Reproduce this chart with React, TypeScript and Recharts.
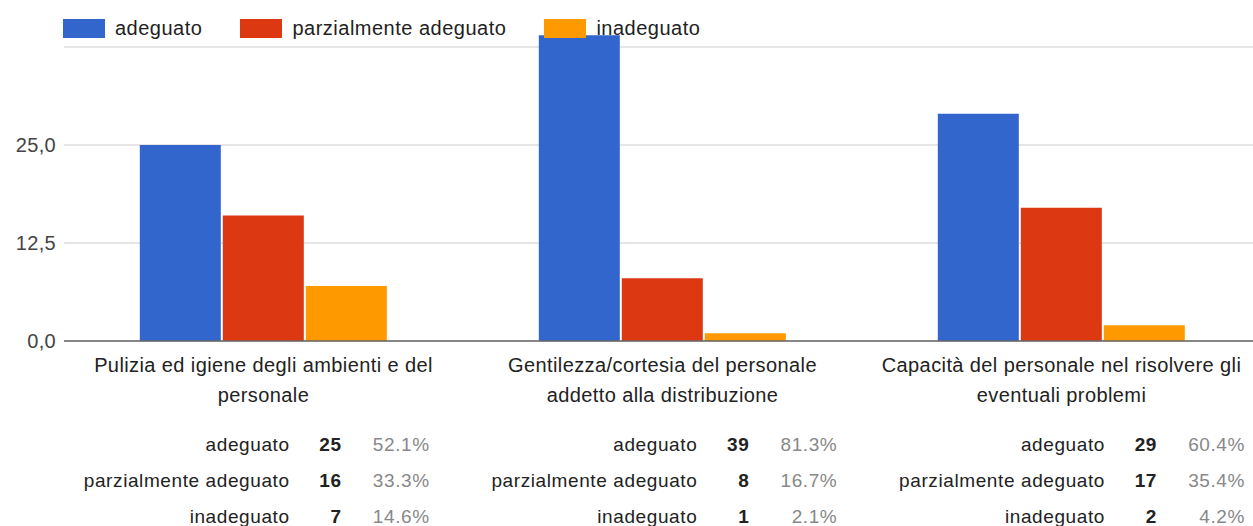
import React from 'react';
import { BarChart, Bar, XAxis, YAxis, CartesianGrid, Legend } from 'recharts';

const categories = [
  'Pulizia ed igiene degli ambienti e del personale',
  'Gentilezza/cortesia del personale addetto alla distribuzione',
  'Capacità del personale nel risolvere gli eventuali problemi',
];
const seriesNames = ['adeguato', 'parzialmente adeguato', 'inadeguato'];
const seriesColors = ['#3366cc', '#dc3912', '#ff9900'];
const adeguato = [25, 39, 29];
const parzialmenteAdeguato = [16, 8, 17];
const inadeguato = [7, 1, 2];
const percAdeguato = ['52.1%', '81.3%', '60.4%'];
const percParziale = ['33.3%', '16.7%', '35.4%'];
const percInadeguato = ['14.6%', '2.1%', '4.2%'];
const yTicks = [0, 12.5, 25, 37.5, 50];
const yTickLabels = ['0,0', '12,5', '25,0', '', ''];

const FONT = '"Liberation Sans", Arial, sans-serif';

const data = categories.map((name, i) => ({
  name,
  a: adeguato[i],
  p: parzialmenteAdeguato[i],
  n: inadeguato[i],
}));

const wrap = (s: string, max = 40) => {
  const lines: string[] = [];
  let cur = '';
  for (const w of s.split(' ')) {
    const t = cur ? cur + ' ' + w : w;
    if (t.length > max && cur) {
      lines.push(cur);
      cur = w;
    } else cur = t;
  }
  if (cur) lines.push(cur);
  return lines;
};

const XTick = ({ x, y, payload }: any) => (
  <text x={x} y={y} textAnchor="middle" fill="#222" fontSize={20} letterSpacing={0.4} fontFamily={FONT}>
    {wrap(payload.value).map((l, i) => (
      <tspan key={i} x={x} dy={i === 0 ? 23 : 30}>{l}</tspan>
    ))}
  </text>
);

const YTick = ({ x, y, payload }: any) => {
  const idx = yTicks.indexOf(payload.value);
  return (
    <text x={x} y={y} dy={7} textAnchor="end" fill="#444" fontSize={20} letterSpacing={0.3} fontFamily={FONT}>
      {yTickLabels[idx]}
    </text>
  );
};

const LegendContent = ({ payload }: any) => {
  const items = [...(payload || [])].sort(
    (a: any, b: any) => seriesNames.indexOf(a.value) - seriesNames.indexOf(b.value)
  );
  return (
    <div style={{ display: 'flex', alignItems: 'center', fontFamily: FONT }}>
      {items.map((e: any) => (
        <div key={e.value} style={{ display: 'flex', alignItems: 'center', marginRight: 38 }}>
          <div style={{ width: 42, height: 19, background: e.color, marginRight: 10 }} />
          <span style={{ fontSize: 20, letterSpacing: 0.5, color: '#222' }}>{e.value}</span>
        </div>
      ))}
    </div>
  );
};

const rows = categories.map((_, i) => [
  [seriesNames[0], adeguato[i], percAdeguato[i]],
  [seriesNames[1], parzialmenteAdeguato[i], percParziale[i]],
  [seriesNames[2], inadeguato[i], percInadeguato[i]],
]);

export default function App() {
  return (
    <div style={{ position: 'fixed', left: 0, top: 0, width: 1253, height: 526, overflow: 'hidden', background: '#fff', fontFamily: FONT }}>
      <div style={{ position: 'absolute', left: 0, top: -71 }}>
        <BarChart
          width={1261}
          height={491}
          data={data}
          margin={{ top: 20, right: 0, left: 0, bottom: 0 }}
          barCategoryGap="19%"
          barGap={2}
        >
          <CartesianGrid vertical={false} stroke="#dddddd" strokeWidth={1.5} />
          <XAxis
            dataKey="name"
            height={79}
            interval={0}
            tickLine={false}
            axisLine={{ stroke: '#666', strokeWidth: 1.5 }}
            tick={<XTick />}
          />
          <YAxis
            domain={[0, 50]}
            ticks={yTicks}
            interval={0}
            width={64}
            axisLine={false}
            tickLine={false}
            tick={<YTick />}
          />
          <Legend
            layout="horizontal"
            verticalAlign="middle"
            align="center"
            content={<LegendContent />}
            wrapperStyle={{ top: 88, left: 63, width: 'auto' }}
          />
          <Bar dataKey="a" name={seriesNames[0]} fill={seriesColors[0]} isAnimationActive={false} />
          <Bar dataKey="p" name={seriesNames[1]} fill={seriesColors[1]} isAnimationActive={false} />
          <Bar dataKey="n" name={seriesNames[2]} fill={seriesColors[2]} isAnimationActive={false} />
        </BarChart>
      </div>
      <div style={{ position: 'absolute', left: 22, top: 427, width: 1223, display: 'flex' }}>
        {rows.map((group, gi) => (
          <div key={gi} style={{ flex: 1, display: 'grid', gridTemplateColumns: '1fr 52px 88px', lineHeight: '36px', fontSize: 19, letterSpacing: 0.6 }}>
            {group.map((r, ri) => (
              <React.Fragment key={ri}>
                <span style={{ textAlign: 'right', color: '#222' }}>{r[0]}</span>
                <span style={{ textAlign: 'right', color: '#222', fontWeight: 'bold' }}>{r[1]}</span>
                <span style={{ textAlign: 'right', color: '#888' }}>{r[2]}</span>
              </React.Fragment>
            ))}
          </div>
        ))}
      </div>
    </div>
  );
}
